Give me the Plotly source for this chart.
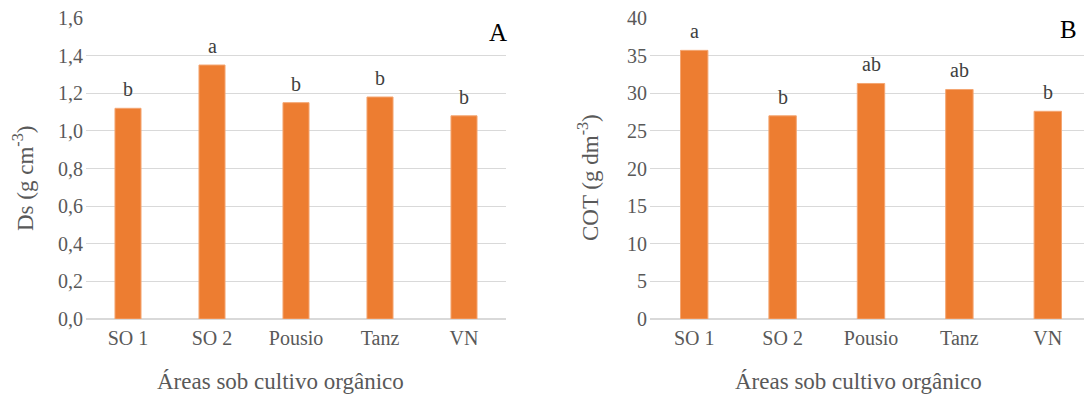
import plotly.graph_objects as go
from plotly.subplots import make_subplots

categories = ["SO 1", "SO 2", "Pousio", "Tanz", "VN"]
ds_values = [1.12, 1.35, 1.15, 1.18, 1.08]
ds_letters = ["b", "a", "b", "b", "b"]
cot_values = [35.7, 27.0, 31.3, 30.5, 27.6]
cot_letters = ["a", "b", "ab", "ab", "b"]
ds_ticks = [0.0, 0.2, 0.4, 0.6, 0.8, 1.0, 1.2, 1.4, 1.6]
ds_ticktext = ["0,0", "0,2", "0,4", "0,6", "0,8", "1,0", "1,2", "1,4", "1,6"]
cot_ticks = [0, 5, 10, 15, 20, 25, 30, 35, 40]

BAR = "#ED7D31"
GRID = "#D9D9D9"
TXT = "#595959"
FONT = "'Liberation Serif', 'Times New Roman', 'DejaVu Serif', serif"

# page body adds an 8px offset; figure is sized to fill the remaining window
OFF = 8
W, H = 1092 - OFF, 394 - OFF


def px(x):
    return (x - OFF) / W


def py(y):
    return 1 - (y - OFF) / H


fig = make_subplots(rows=1, cols=2)
fig.add_trace(go.Bar(x=categories, y=ds_values, marker_color=BAR,
                     marker_line=dict(color="#F4A672", width=1), width=0.31,
                     showlegend=False), row=1, col=1)
fig.add_trace(go.Bar(x=categories, y=cot_values, marker_color=BAR,
                     marker_line=dict(color="#F4A672", width=1), width=0.31,
                     showlegend=False), row=1, col=2)

ydom = [py(319), py(18)]
fig.update_xaxes(showline=False, showgrid=False, ticks="", automargin=False,
                 ticklabelstandoff=5, ticklabeloverflow="allow",
                 tickfont=dict(family=FONT, size=20, color=TXT))
fig.update_yaxes(showgrid=True, gridcolor=GRID, gridwidth=1.3, zeroline=True,
                 zerolinecolor=GRID, zerolinewidth=1.5, ticks="", automargin=False,
                 ticklabelstandoff=2, ticklabeloverflow="allow",
                 tickfont=dict(family=FONT, size=20, color=TXT))
fig.update_layout(
    xaxis=dict(domain=[px(86), px(506)]),
    xaxis2=dict(domain=[px(650), 1.0]),
    yaxis=dict(domain=ydom, range=[0, 1.6], tickvals=ds_ticks, ticktext=ds_ticktext),
    yaxis2=dict(domain=ydom, range=[0, 40], tickvals=cot_ticks),
)

annotations = []
for c, v, l in zip(categories, ds_values, ds_letters):
    annotations.append(dict(x=c, y=v, xref="x", yref="y", text=l, showarrow=False,
                            yanchor="bottom", yshift=6,
                            font=dict(family=FONT, size=20, color="#404040")))
for c, v, l in zip(categories, cot_values, cot_letters):
    annotations.append(dict(x=c, y=v, xref="x2", yref="y2", text=l, showarrow=False,
                            yanchor="bottom", yshift=6,
                            font=dict(family=FONT, size=20, color="#404040")))

annotations += [
    dict(x=px(498), y=py(32), xref="paper", yref="paper", text="A",
         showarrow=False, xanchor="center", yanchor="middle",
         font=dict(family=FONT, size=25, color="#000000")),
    dict(x=px(1068), y=py(30), xref="paper", yref="paper", text="B",
         showarrow=False, xanchor="center", yanchor="middle",
         font=dict(family=FONT, size=25, color="#000000")),
    dict(x=px(280), y=py(381), xref="paper", yref="paper",
         text="Áreas sob cultivo orgânico", showarrow=False,
         xanchor="center", yanchor="middle",
         font=dict(family=FONT, size=23, color=TXT)),
    dict(x=px(858), y=py(381), xref="paper", yref="paper",
         text="Áreas sob cultivo orgânico", showarrow=False,
         xanchor="center", yanchor="middle",
         font=dict(family=FONT, size=23, color=TXT)),
    dict(x=px(23), y=py(179), xref="paper", yref="paper",
         text="Ds (g cm<sup>-3</sup>)", showarrow=False, textangle=-90,
         xanchor="center", yanchor="middle",
         font=dict(family=FONT, size=23, color=TXT)),
    dict(x=px(588), y=py(178), xref="paper", yref="paper",
         text="COT (g dm<sup>-3</sup>)", showarrow=False, textangle=-90,
         xanchor="center", yanchor="middle",
         font=dict(family=FONT, size=23, color=TXT)),
]

fig.update_layout(
    width=W, height=H,
    margin=dict(l=0, r=0, t=0, b=0, pad=0, autoexpand=False),
    paper_bgcolor="white", plot_bgcolor="white",
    font=dict(family=FONT),
    annotations=annotations,
)

fig.write_html("out.html")
